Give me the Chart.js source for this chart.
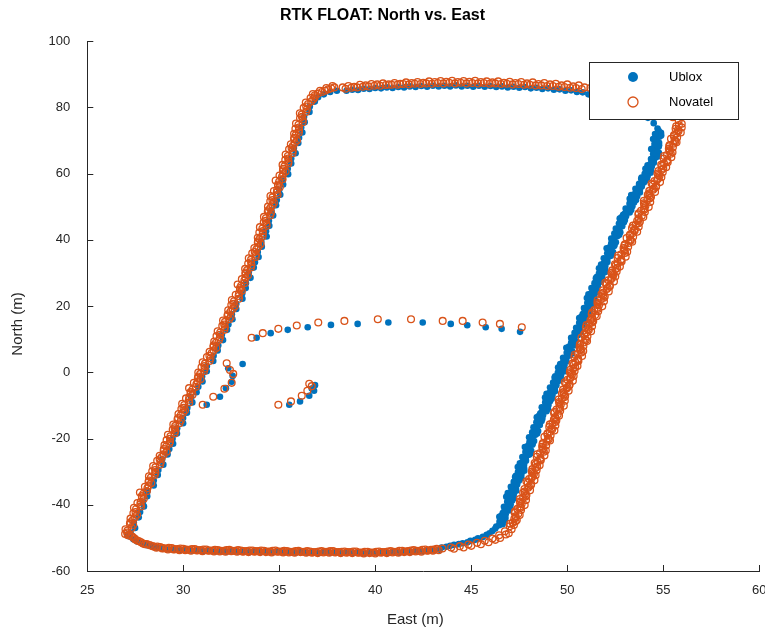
<!DOCTYPE html>
<html>
<head>
<meta charset="utf-8">
<title>RTK FLOAT: North vs. East</title>
<script src="https://cdn.jsdelivr.net/npm/chart.js@4/dist/chart.umd.min.js"></script>
<style>
    html, body { margin: 0; padding: 0; background: #ffffff; }
    #chart { display: block; }
</style>
</head>
<body>
<canvas id="chart" width="765" height="632"></canvas>
<script>

// axis ticks
var eastTicks = [25, 30, 35, 40, 45, 50, 55, 60];
var northTicks = [-60, -40, -20, 0, 20, 40, 60, 80, 100];

// Ublox track, [east, north] in metres, leg by leg
var ubloxWest = [
    [27.25,-48.4],[27.49,-47.0],[27.42,-45.3],[27.68,-43.8],[27.75,-42.2],[27.95,-40.5],[27.90,-39.1],[28.12,-37.4],[28.13,-35.9],[28.46,-34.2],
    [28.46,-32.7],[28.67,-31.0],[28.70,-29.5],[28.96,-27.9],[28.90,-26.3],[29.18,-24.8],[29.27,-23.2],[29.47,-21.6],[29.44,-20.1],[29.67,-18.5],
    [29.68,-16.9],[29.99,-15.4],[29.99,-13.8],[30.19,-12.2],[30.21,-10.7],[30.47,-9.1],[30.41,-7.5],[30.69,-6.0],[30.78,-4.4],[31.00,-2.8],
    [30.98,-1.3],[31.22,0.3],[31.23,1.9],[31.56,3.4],[31.58,5.0],[31.79,6.6],[31.82,8.1],[32.07,9.7],[32.01,11.3],[32.28,12.8],
    [32.35,14.4],[32.56,16.0],[32.53,17.5],[32.76,19.1],[32.76,20.7],[33.08,22.2],[33.07,23.8],[33.25,25.4],[33.26,26.9],[33.50,28.5],
    [33.41,30.1],[33.67,31.6],[33.73,33.2],[33.92,34.8],[33.88,36.3],[34.09,37.9],[34.06,39.5],[34.34,41.0],[34.31,42.6],[34.48,44.2],
    [34.46,45.7],[34.68,47.3],[34.59,48.9],[34.83,50.4],[34.87,52.0],[35.05,53.6],[35.00,55.1],[35.20,56.7],[35.18,58.3],[35.46,59.8],
    [35.44,61.4],[35.62,63.0],[35.62,64.5],[35.85,66.1],[35.76,67.7],[35.99,69.2],[36.03,70.8],[36.20,72.4],[36.14,73.9],[36.32,75.5],
    [36.29,77.1],[36.57,78.6],[36.59,80.2],[36.85,81.7],[37.02,83.0],[37.32,83.9],[37.65,84.6],[38.00,85.0]
];
var ubloxTop = [
    [38.5,85.0],[38.8,85.3],[39.1,85.2],[39.4,85.6],[39.7,85.5],[40.0,85.8],[40.3,85.7],[40.6,86.0],[40.9,85.8],[41.2,86.1],
    [41.5,86.0],[41.8,86.3],[42.1,86.1],[42.4,86.4],[42.7,86.2],[43.0,86.5],[43.3,86.3],[43.6,86.5],[43.9,86.3],[44.2,86.6],
    [44.5,86.3],[44.8,86.5],[45.1,86.2],[45.4,86.5],[45.7,86.2],[46.0,86.4],[46.3,86.1],[46.6,86.3],[46.9,86.0],[47.2,86.2],
    [47.5,85.9],[47.8,86.1],[48.1,85.7],[48.4,85.9],[48.7,85.5],[49.0,85.7],[49.3,85.3],[49.6,85.4],[49.9,85.0],[50.2,85.1],
    [50.5,84.6],[50.8,84.5],[51.1,83.9],[51.4,83.4],[51.8,82.8],[52.3,82.0],[52.8,81.0],[53.3,79.8],[53.8,78.4],[54.2,76.8],
    [54.5,75.2],[54.7,73.6]
];
var ubloxEastA = [
    [54.75,73.0],[54.89,71.5],[54.58,70.0],[54.78,68.5],[54.60,67.0],[54.78,65.5],[54.51,64.0],[54.18,62.5],[54.35,61.0],[54.08,59.5],
    [54.14,58.0],[53.74,56.5],[53.78,55.0],[53.33,53.5],[53.58,52.0],[53.32,50.5],[53.33,49.0],[52.91,47.5],[53.00,46.0],[52.75,44.5],
    [52.63,43.0],[52.71,41.5],[52.33,40.0],[52.46,38.5],[52.21,37.0],[52.32,35.5],[52.07,34.0],[51.76,32.5],[51.97,31.0],[51.72,29.5],
    [51.82,28.0],[51.45,26.5],[51.52,25.0],[51.10,23.5],[51.38,22.0],[51.15,20.5],[51.19,19.0],[50.80,17.5],[50.93,16.0],[50.68,14.5],
    [50.56,13.0],[50.62,11.5],[50.24,10.0],[50.36,8.5],[50.10,7.0],[50.20,5.5],[49.94,4.0],[49.63,2.5],[49.83,1.0],[49.57,-0.5],
    [49.66,-2.0],[49.29,-3.5],[49.35,-5.0],[48.92,-6.5],[49.19,-8.0],[48.95,-9.5],[48.99,-11.0],[48.59,-12.5],[48.70,-14.0],[48.46,-15.5],
    [48.35,-17.0],[48.43,-18.5],[48.07,-20.0],[48.20,-21.5],[47.95,-23.0],[48.08,-24.5],[47.83,-26.0],[47.53,-27.5],[47.75,-29.0],[47.51,-30.5],
    [47.61,-32.0],[47.25,-33.5],[47.32,-35.0],[46.90,-36.5],[47.21,-38.0],[46.98,-39.5],[47.03,-41.0],[46.64,-42.5],[46.78,-44.0],[46.52,-45.5]
];
var ubloxEastB = [
    [54.88,72.25],[54.64,70.75],[54.78,69.25],[54.52,67.75],[54.77,66.25],[54.57,64.75],[54.51,63.25],[54.26,61.75],[54.34,60.25],[53.87,58.75],
    [53.99,57.25],[53.74,55.75],[53.78,54.25],[53.42,52.75],[53.48,51.25],[53.26,49.75],[53.25,48.25],[52.82,46.75],[52.95,45.25],[52.74,43.75],
    [52.76,42.25],[52.46,40.75],[52.53,39.25],[52.20,37.75],[52.38,36.25],[52.11,34.75],[52.09,33.25],[51.86,31.75],[51.98,30.25],[51.53,28.75],
    [51.69,27.25],[51.47,25.75],[51.54,24.25],[51.21,22.75],[51.30,21.25],[51.11,19.75],[51.13,18.25],[50.73,16.75],[50.90,15.25],[50.66,13.75],
    [50.68,12.25],[50.36,10.75],[50.43,9.25],[50.09,7.75],[50.26,6.25],[49.98,4.75],[49.95,3.25],[49.72,1.75],[49.83,0.25],[49.37,-1.25],
    [49.52,-2.75],[49.30,-4.25],[49.36,-5.75],[49.02,-7.25],[49.10,-8.75],[48.90,-10.25],[48.92,-11.75],[48.51,-13.25],[48.66,-14.75],[48.45,-16.25],
    [48.48,-17.75],[48.18,-19.25],[48.27,-20.75],[47.94,-22.25],[48.12,-23.75],[47.87,-25.25],[47.85,-26.75],[47.63,-28.25],[47.76,-29.75],[47.32,-31.25],
    [47.48,-32.75],[47.27,-34.25],[47.34,-35.75],[47.01,-37.25],[47.13,-38.75],[46.94,-40.25],[46.97,-41.75],[46.57,-43.25],[46.75,-44.75]
];
var ubloxEastC = [
    [54.77,72.6],[54.80,71.1],[54.63,69.6],[54.76,68.1],[54.67,66.6],[54.71,65.1],[54.45,63.6],[54.40,62.1],[54.11,60.6],[54.18,59.1],
    [53.94,57.6],[53.88,56.1],[53.61,54.6],[53.64,53.1],[53.44,51.6],[53.39,50.1],[53.11,48.6],[53.06,47.1],[52.77,45.6],[52.86,44.1],
    [52.65,42.6],[52.62,41.1],[52.38,39.6],[52.44,38.1],[52.28,36.6],[52.25,35.1],[52.01,33.6],[51.98,32.1],[51.73,30.6],[51.82,29.1],
    [51.62,27.6],[51.59,26.1],[51.35,24.6],[51.41,23.1],[51.24,21.6],[51.22,20.1],[50.97,18.6],[50.95,17.1],[50.70,15.6],[50.79,14.1],
    [50.58,12.6],[50.53,11.1],[50.29,9.6],[50.34,8.1],[50.17,6.6],[50.13,5.1],[49.88,3.6],[49.85,2.1],[49.59,0.6],[49.67,-0.9],
    [49.46,-2.4],[49.43,-3.9],[49.18,-5.4],[49.23,-6.9],[49.05,-8.4],[49.02,-9.9],[48.77,-11.4],[48.74,-12.9],[48.47,-14.4],[48.57,-15.9],
    [48.37,-17.4],[48.34,-18.9],[48.12,-20.4],[48.18,-21.9],[48.02,-23.4],[48.01,-24.9],[47.77,-26.4],[47.75,-27.9],[47.51,-29.4],[47.61,-30.9],
    [47.41,-32.4],[47.39,-33.9],[47.15,-35.4],[47.21,-36.9],[47.07,-38.4],[47.05,-39.9],[46.81,-41.4],[46.79,-42.9],[46.55,-44.4],[46.63,-45.9]
];
var ubloxEastD = [
    [54.57,71.9],[54.47,70.4],[54.54,68.9],[54.37,67.4],[54.47,65.9],[54.36,64.4],[54.34,62.9],[54.07,61.4],[54.03,59.9],[53.85,58.4],
    [53.74,56.9],[53.55,55.4],[53.52,53.9],[53.25,52.4],[53.24,50.9],[53.04,49.4],[53.00,47.9],[52.73,46.4],[52.69,44.9],[52.53,43.4],
    [52.45,41.9],[52.29,40.4],[52.29,38.9],[52.05,37.4],[52.08,35.9],[51.90,34.4],[51.90,32.9],[51.65,31.4],[51.65,29.9],[51.49,28.4],
    [51.42,26.9],[51.26,25.4],[51.26,23.9],[51.02,22.4],[51.04,20.9],[50.87,19.4],[50.86,17.9],[50.62,16.4],[50.62,14.9],[50.46,13.4],
    [50.38,11.9],[50.20,10.4],[50.20,8.9],[49.95,7.4],[49.97,5.9],[49.78,4.4],[49.77,2.9],[49.52,1.4],[49.51,-0.1],[49.34,-1.6],
    [49.26,-3.1],[49.10,-4.6],[49.09,-6.1],[48.84,-7.6],[48.85,-9.1],[48.67,-10.6],[48.66,-12.1],[48.41,-13.6],[48.39,-15.1],[48.24,-16.6],
    [48.17,-18.1],[48.01,-19.6],[48.03,-21.1],[47.79,-22.6],[47.82,-24.1],[47.66,-25.6],[47.66,-27.1],[47.42,-28.6],[47.43,-30.1],[47.28,-31.6],
    [47.21,-33.1],[47.06,-34.6],[47.06,-36.1],[46.82,-37.6],[46.87,-39.1],[46.70,-40.6],[46.70,-42.1],[46.46,-43.6],[46.47,-45.1],[46.30,-46.6]
];
var ubloxCorner = [
    [46.25,-47.2],[45.95,-48.6],[45.60,-49.7],[45.20,-50.6],[44.80,-51.3],[44.35,-51.9],[43.90,-52.4],[43.45,-52.9],
    [46.45,-46.2],[46.10,-47.9],[45.80,-49.1],[45.35,-50.1],[44.95,-50.9],[44.55,-51.6],[44.10,-52.1],[43.70,-52.7]
];
var ubloxBottom = [
    [43.35,-53.6],[43.05,-53.8],[42.75,-53.9],[42.45,-54.1],[42.15,-54.0],[41.85,-54.3],[41.55,-54.2],[41.25,-54.5],[40.95,-54.3],[40.65,-54.6],
    [40.35,-54.4],[40.05,-54.6],[39.75,-54.5],[39.45,-54.7],[39.15,-54.4],[38.85,-54.6],[38.55,-54.4],[38.25,-54.6],[37.95,-54.3],[37.65,-54.5],
    [37.35,-54.3],[37.05,-54.6],[36.75,-54.4],[36.45,-54.5],[36.15,-54.2],[35.85,-54.5],[35.55,-54.3],[35.25,-54.4],[34.95,-54.1],[34.65,-54.4],
    [34.35,-54.2],[34.05,-54.3],[33.75,-54.1],[33.45,-54.3],[33.15,-54.1],[32.85,-54.2],[32.55,-53.9],[32.25,-54.2],[31.95,-54.0],[31.65,-54.1],
    [31.35,-53.8],[31.05,-54.0],[30.75,-53.7],[30.45,-53.9],[30.15,-53.6],[29.85,-53.7],[29.55,-53.4],[29.25,-53.5],[28.95,-53.1],[28.65,-53.0],
    [28.35,-52.5],[28.10,-52.2],[27.85,-51.6],[27.60,-51.1],[27.40,-50.4],[27.20,-49.6],[27.10,-49.0]
];
var ubloxInner = [
    [33.82,10.4],[34.55,11.8],[35.44,12.8],[36.48,13.6],[37.69,14.3],[39.08,14.6],[40.68,15.0],[42.47,15.0],[43.93,14.6],[44.79,14.2],
    [45.75,13.6],[46.58,13.1],[47.54,12.2],
    [33.09,2.5],[32.34,1.2],[32.57,-1.1],[32.52,-2.9],[32.22,-4.8],[31.91,-7.4],[31.22,-9.8],
    [35.52,-9.8],[36.08,-8.8],[36.56,-7.1],[36.81,-5.6],[36.86,-3.9],[36.69,-4.9]
];

// Novatel track, [east, north] in metres, leg by leg
var novatelWest = [
    [27.11,-49.2],[27.09,-47.8],[27.39,-46.1],[27.37,-44.6],[27.59,-43.0],[27.54,-41.3],[27.76,-39.9],[27.94,-38.2],[27.92,-36.7],[28.13,-35.0],
    [28.33,-33.5],[28.31,-31.8],[28.55,-30.3],[28.55,-28.7],[28.83,-27.1],[28.88,-25.6],[29.13,-24.0],[29.11,-22.4],[29.31,-20.9],[29.33,-19.3],
    [29.59,-17.7],[29.58,-16.2],[29.87,-14.6],[29.87,-13.0],[30.09,-11.5],[30.05,-9.9],[30.29,-8.3],[30.48,-6.8],[30.48,-5.2],[30.68,-3.6],
    [30.90,-2.1],[30.88,-0.5],[31.12,1.1],[31.13,2.6],[31.42,4.2],[31.48,5.8],[31.72,7.3],[31.70,8.9],[31.91,10.5],[31.92,12.0],
    [32.17,13.6],[32.17,15.2],[32.47,16.7],[32.46,18.3],[32.69,19.9],[32.64,21.4],[32.88,23.0],[33.05,24.6],[33.01,26.1],[33.18,27.7],
    [33.37,29.3],[33.32,30.8],[33.55,32.4],[33.53,34.0],[33.78,35.5],[33.81,37.1],[34.03,38.7],[33.97,40.2],[34.14,41.8],[34.12,43.4],
    [34.33,44.9],[34.30,46.5],[34.57,48.1],[34.53,49.6],[34.72,51.2],[34.65,52.8],[34.87,54.3],[35.03,55.9],[34.99,57.5],[35.14,59.0],
    [35.33,60.6],[35.27,62.2],[35.48,63.7],[35.45,65.3],[35.70,66.9],[35.71,68.4],[35.92,70.0],[35.86,71.6],[36.02,73.1],[36.00,74.7],
    [36.22,76.3],[36.17,77.8],[36.44,79.4],[36.50,81.0],[36.77,82.4],[36.85,83.6],[37.22,84.6],[37.55,85.4],[37.87,86.0]
];
var novatelWestB = [
    [27.07,-48.4],[27.31,-47.0],[27.25,-45.3],[27.49,-43.8],[27.51,-42.2],[27.80,-40.5],[27.78,-39.1],[27.84,-37.4],[28.10,-35.9],[28.19,-34.2],
    [28.21,-32.7],[28.51,-31.0],[28.53,-29.5],[28.79,-27.9],[28.77,-26.3],[28.98,-24.8],[28.99,-23.2],[29.27,-21.6],[29.31,-20.1],[29.55,-18.5],
    [29.55,-16.9],[29.80,-15.4],[29.73,-13.8],[29.99,-12.2],[30.01,-10.7],[30.31,-9.1],[30.31,-7.5],[30.38,-6.0],[30.66,-4.4],[30.74,-2.8],
    [30.78,-1.3],[31.08,0.3],[31.10,1.9],[31.37,3.4],[31.36,5.0],[31.58,6.6],[31.58,8.1],[31.86,9.7],[31.91,11.3],[32.14,12.8],
    [32.13,14.4],[32.39,16.0],[32.33,17.5],[32.58,19.1],[32.61,20.7],[32.90,22.2],[32.90,23.8],[32.95,25.4],[33.19,26.9],[33.24,28.5],
    [33.25,30.1],[33.52,31.6],[33.53,33.2],[33.77,34.8],[33.72,36.3],[33.91,37.9],[33.89,39.5],[34.13,41.0],[34.14,42.6],[34.34,44.2],
    [34.29,45.7],[34.52,47.3],[34.43,48.9],[34.65,50.4],[34.64,52.0],[34.91,53.6],[34.89,55.1],[34.93,56.7],[35.17,58.3],[35.20,59.8],
    [35.21,61.4],[35.47,63.0],[35.46,64.5],[35.69,66.1],[35.64,67.7],[35.81,69.2],[35.78,70.8],[36.02,72.4],[36.02,73.9],[36.22,75.5],
    [36.18,77.1],[36.39,78.6],[36.40,80.2],[36.66,81.7],[36.85,83.0],[37.00,84.1],[37.38,85.0],[37.70,85.7]
];
var novatelWestC = [
    [26.97,-48.8],[26.99,-47.4],[27.22,-45.7],[27.25,-44.2],[27.40,-42.6],[27.43,-40.9],[27.61,-39.5],[27.85,-37.8],[27.74,-36.3],[28.00,-34.6],
    [28.19,-33.1],[28.21,-31.4],[28.38,-29.9],[28.43,-28.3],[28.64,-26.7],[28.77,-25.2],[28.98,-23.6],[29.02,-22.0],[29.13,-20.5],[29.20,-18.9],
    [29.45,-17.3],[29.48,-15.8],[29.70,-14.2],[29.75,-12.6],[29.90,-11.1],[29.94,-9.5],[30.14,-7.9],[30.39,-6.4],[30.30,-4.8],[30.55,-3.2],
    [30.76,-1.7],[30.78,-0.1],[30.95,1.5],[31.01,3.0],[31.23,4.6],[31.37,6.2],[31.57,7.7],[31.61,9.3],[31.73,10.9],[31.79,12.4],
    [32.03,14.0],[32.07,15.6],[32.30,17.1],[32.34,18.7],[32.50,20.3],[32.53,21.8],[32.73,23.4],[32.96,25.0],[32.83,26.5],[33.05,28.1],
    [33.23,29.7],[33.22,31.2],[33.38,32.8],[33.41,34.4],[33.59,35.9],[33.70,37.5],[33.88,39.1],[33.88,40.6],[33.96,42.2],[33.99,43.8],
    [34.19,45.3],[34.20,46.9],[34.40,48.5],[34.41,50.0],[34.53,51.6],[34.54,53.2],[34.72,54.7],[34.94,56.3],[34.81,57.9],[35.01,59.4],
    [35.19,61.0],[35.17,62.6],[35.31,64.1],[35.33,65.7],[35.51,67.3],[35.60,68.8],[35.77,70.4],[35.77,72.0],[35.84,73.5],[35.87,75.1],
    [36.08,76.7],[36.07,78.2],[36.27,79.8],[36.38,81.4],[36.63,82.8],[36.75,84.0],[37.12,85.0],[37.45,85.8],[37.77,86.4]
];
var novatelTop = [
    [38.3,86.0],[38.6,86.4],[38.9,86.2],[39.2,86.8],[39.5,86.6],[39.8,87.0],[40.1,86.9],[40.4,87.2],[40.7,86.9],[41.0,87.3],
    [41.3,87.1],[41.6,87.5],[41.9,87.3],[42.2,87.6],[42.5,87.4],[42.8,87.8],[43.1,87.6],[43.4,87.9],[43.7,87.7],[44.0,88.0],
    [44.3,87.6],[44.6,87.9],[44.9,87.7],[45.2,88.0],[45.5,87.6],[45.8,87.8],[46.1,87.5],[46.4,87.8],[46.7,87.4],[47.0,87.7],
    [47.3,87.3],[47.6,87.6],[47.9,87.2],[48.2,87.5],[48.5,87.0],[48.8,87.3],[49.1,86.9],[49.4,87.1],[49.7,86.6],[50.0,86.9],
    [50.3,86.3],[50.6,86.6],[50.9,86.0],[51.2,85.8],[51.6,85.4],[52.1,84.9],[52.6,84.1],[53.1,83.3],[53.6,82.2],[54.1,81.0],
    [54.6,79.6],[55.1,78.3],[55.5,77.0],[55.8,76.0]
];
var novatelTopB = [
    [38.45,85.6],[38.75,85.9],[39.05,86.0],[39.35,86.2],[39.65,86.3],[39.95,86.5],[40.25,86.5],[40.55,86.7],[40.85,86.8],[41.15,86.8],
    [41.45,87.0],[41.75,86.9],[42.05,87.1],[42.35,87.0],[42.65,87.2],[42.95,87.1],[43.25,87.3],[43.55,87.2],[43.85,87.4],[44.15,87.2],
    [44.45,87.4],[44.75,87.2],[45.05,87.3],[45.35,87.2],[45.65,87.3],[45.95,87.1],[46.25,87.2],[46.55,87.0],[46.85,87.1],[47.15,86.9],
    [47.45,87.0],[47.75,86.8],[48.05,86.8],[48.35,86.6],[48.65,86.6],[48.95,86.4],[49.25,86.4],[49.55,86.2],[49.85,86.1],[50.15,85.9],
    [50.45,85.8],[50.75,85.5]
];
var novatelEastA = [
    [55.96,75.0],[55.64,73.5],[55.68,72.0],[55.40,70.5],[55.52,69.0],[55.29,67.5],[55.39,66.0],[55.02,64.5],[55.04,63.0],[55.00,61.5],
    [54.70,60.0],[54.72,58.5],[54.39,57.0],[54.51,55.5],[54.27,54.0],[54.31,52.5],[53.99,51.0],[54.00,49.5],[53.72,48.0],[53.72,46.5],
    [53.72,45.0],[53.37,43.5],[53.39,42.0],[53.09,40.5],[53.19,39.0],[52.93,37.5],[53.01,36.0],[52.62,34.5],[52.63,33.0],[52.60,31.5],
    [52.30,30.0],[52.32,28.5],[51.98,27.0],[52.10,25.5],[51.86,24.0],[51.90,22.5],[51.57,21.0],[51.57,19.5],[51.29,18.0],[51.29,16.5],
    [51.29,15.0],[50.97,13.5],[51.01,12.0],[50.74,10.5],[50.86,9.0],[50.64,7.5],[50.74,6.0],[50.37,4.5],[50.42,3.0],[50.41,1.5],
    [50.13,0.0],[50.18,-1.5],[49.87,-3.0],[50.01,-4.5],[49.80,-6.0],[49.86,-7.5],[49.57,-9.0],[49.59,-10.5],[49.33,-12.0],[49.37,-13.5],
    [49.38,-15.0],[49.06,-16.5],[49.09,-18.0],[48.81,-19.5],[48.92,-21.0],[48.69,-22.5],[48.78,-24.0],[48.41,-25.5],[48.45,-27.0],[48.43,-28.5],
    [48.15,-30.0],[48.18,-31.5],[47.87,-33.0],[48.00,-34.5],[47.78,-36.0],[47.84,-37.5],[47.53,-39.0],[47.55,-40.5],[47.28,-42.0],[47.31,-43.5],
    [47.31,-45.0],[47.00,-46.5]
];
var novatelEastB = [
    [55.67,74.25],[55.79,72.75],[55.55,71.25],[55.63,69.75],[55.31,68.25],[55.34,66.75],[55.04,65.25],[55.20,63.75],[54.94,62.25],[54.74,60.75],
    [54.80,59.25],[54.54,57.75],[54.63,56.25],[54.27,54.75],[54.27,53.25],[53.99,51.75],[54.07,50.25],[53.84,48.75],[53.88,47.25],[53.64,45.75],
    [53.42,44.25],[53.51,42.75],[53.25,41.25],[53.31,39.75],[52.97,38.25],[52.97,36.75],[52.65,35.25],[52.80,33.75],[52.53,32.25],[52.34,30.75],
    [52.40,29.25],[52.14,27.75],[52.22,26.25],[51.86,24.75],[51.86,23.25],[51.58,21.75],[51.65,20.25],[51.41,18.75],[51.45,17.25],[51.21,15.75],
    [51.00,14.25],[51.12,12.75],[50.88,11.25],[50.97,9.75],[50.65,8.25],[50.69,6.75],[50.39,5.25],[50.56,3.75],[50.33,2.25],[50.16,0.75],
    [50.24,-0.75],[50.01,-2.25],[50.12,-3.75],[49.78,-5.25],[49.81,-6.75],[49.55,-8.25],[49.66,-9.75],[49.44,-11.25],[49.50,-12.75],[49.30,-14.25],
    [49.09,-15.75],[49.21,-17.25],[48.96,-18.75],[49.04,-20.25],[48.71,-21.75],[48.74,-23.25],[48.43,-24.75],[48.60,-26.25],[48.36,-27.75],[48.18,-29.25],
    [48.26,-30.75],[48.01,-32.25],[48.12,-33.75],[47.77,-35.25],[47.79,-36.75],[47.53,-38.25],[47.62,-39.75],[47.40,-41.25],[47.45,-42.75],[47.24,-44.25],
    [47.02,-45.75]
];
var novatelEastC = [
    [55.81,74.6],[55.76,73.1],[55.56,71.6],[55.59,70.1],[55.33,68.6],[55.33,67.1],[55.19,65.6],[55.21,64.1],[54.89,62.6],[54.91,61.1],
    [54.75,59.6],[54.68,58.1],[54.46,56.6],[54.47,55.1],[54.19,53.6],[54.17,52.1],[54.01,50.6],[54.02,49.1],[53.70,47.6],[53.72,46.1],
    [53.57,44.6],[53.49,43.1],[53.27,41.6],[53.28,40.1],[53.00,38.6],[52.97,37.1],[52.81,35.6],[52.81,34.1],[52.48,32.6],[52.51,31.1],
    [52.35,29.6],[52.28,28.1],[52.05,26.6],[52.06,25.1],[51.78,23.6],[51.76,22.1],[51.59,20.6],[51.59,19.1],[51.27,17.6],[51.29,16.1],
    [51.14,14.6],[51.09,13.1],[50.89,11.6],[50.93,10.1],[50.67,8.6],[50.68,7.1],[50.54,5.6],[50.56,4.1],[50.27,2.6],[50.32,1.1],
    [50.18,-0.4],[50.14,-1.9],[49.94,-3.4],[49.97,-4.9],[49.72,-6.4],[49.72,-7.9],[49.59,-9.4],[49.61,-10.9],[49.31,-12.4],[49.37,-13.9],
    [49.23,-15.4],[49.18,-16.9],[48.97,-18.4],[49.00,-19.9],[48.73,-21.4],[48.73,-22.9],[48.58,-24.4],[48.60,-25.9],[48.30,-27.4],[48.34,-28.9],
    [48.20,-30.4],[48.14,-31.9],[47.94,-33.4],[47.96,-34.9],[47.70,-36.4],[47.70,-37.9],[47.55,-39.4],[47.57,-40.9],[47.26,-42.4],[47.31,-43.9],
    [47.16,-45.4]
];
var novatelEastD = [
    [55.96,73.9],[55.91,72.4],[55.72,70.9],[55.69,69.4],[55.50,67.9],[55.48,66.4],[55.42,64.9],[55.23,63.4],[55.15,61.9],[54.97,60.4],
    [54.90,58.9],[54.83,57.4],[54.62,55.9],[54.57,54.4],[54.36,52.9],[54.32,51.4],[54.24,49.9],[54.04,48.4],[53.96,46.9],[53.78,45.4],
    [53.72,43.9],[53.64,42.4],[53.43,40.9],[53.38,39.4],[53.17,37.9],[53.12,36.4],[53.04,34.9],[52.83,33.4],[52.74,31.9],[52.57,30.4],
    [52.50,28.9],[52.43,27.4],[52.21,25.9],[52.16,24.4],[51.95,22.9],[51.91,21.4],[51.82,19.9],[51.61,18.4],[51.53,16.9],[51.35,15.4],
    [51.29,13.9],[51.24,12.4],[51.05,10.9],[51.03,9.4],[50.84,7.9],[50.83,6.4],[50.77,4.9],[50.58,3.4],[50.53,1.9],[50.38,0.4],
    [50.33,-1.1],[50.29,-2.6],[50.10,-4.1],[50.07,-5.6],[49.89,-7.1],[49.87,-8.6],[49.82,-10.1],[49.63,-11.6],[49.57,-13.1],[49.43,-14.6],
    [49.38,-16.1],[49.33,-17.6],[49.13,-19.1],[49.10,-20.6],[48.90,-22.1],[48.88,-23.6],[48.81,-25.1],[48.62,-26.6],[48.56,-28.1],[48.40,-29.6],
    [48.35,-31.1],[48.29,-32.6],[48.10,-34.1],[48.06,-35.6],[47.87,-37.1],[47.85,-38.6],[47.78,-40.1],[47.59,-41.6],[47.52,-43.1],[47.37,-44.6],
    [47.22,-46.1]
];
var novatelCorner = [
    [46.75,-48.0],[46.95,-48.6],[46.45,-49.2],[46.50,-50.0],[46.10,-50.2],[45.70,-50.9],[45.90,-51.3],[45.30,-51.5],[44.85,-52.0],[44.40,-52.5],
    [43.95,-52.9],[43.50,-53.2],
    [47.10,-47.4],[46.80,-49.0],[46.25,-50.6],[45.50,-51.9],[45.00,-52.4],[44.60,-52.9],[44.10,-53.3]
];
var novatelBottom = [
    [43.2,-53.3],[42.9,-53.6],[42.6,-53.5],[42.3,-53.9],[42.0,-53.7],[41.7,-54.0],[41.4,-53.9],[41.1,-54.2],[40.8,-54.0],[40.5,-54.3],
    [40.2,-54.1],[39.9,-54.4],[39.6,-54.2],[39.3,-54.4],[39.0,-54.1],[38.7,-54.3],[38.4,-54.1],[38.1,-54.3],[37.8,-54.0],[37.5,-54.2],
    [37.2,-54.0],[36.9,-54.3],[36.6,-54.1],[36.3,-54.2],[36.0,-53.9],[35.7,-54.2],[35.4,-54.0],[35.1,-54.1],[34.8,-53.8],[34.5,-54.1],
    [34.2,-53.9],[33.9,-54.0],[33.6,-53.8],[33.3,-54.0],[33.0,-53.8],[32.7,-53.9],[32.4,-53.6],[32.1,-53.9],[31.8,-53.7],[31.5,-53.8],
    [31.2,-53.5],[30.9,-53.7],[30.6,-53.4],[30.3,-53.6],[30.0,-53.3],[29.7,-53.4],[29.4,-53.1],[29.1,-53.2],[28.8,-52.8],[28.5,-52.7],
    [28.25,-52.2],[28.0,-51.9],[27.8,-51.3],[27.6,-50.8],[27.45,-50.1],[27.3,-49.5]
];
var novatelBottomB = [
    [43.05,-53.5],[42.75,-53.8],[42.45,-53.6],[42.15,-53.9],[41.85,-53.8],[41.55,-54.1],[41.25,-53.9],[40.95,-54.2],[40.65,-54.1],[40.35,-54.3],
    [40.05,-54.2],[39.75,-54.4],[39.45,-54.2],[39.15,-54.4],[38.85,-54.1],[38.55,-54.3],[38.25,-54.2],[37.95,-54.3],[37.65,-54.0],[37.35,-54.2],
    [37.05,-54.1],[36.75,-54.3],[36.45,-54.0],[36.15,-54.2],[35.85,-54.0],[35.55,-54.2],[35.25,-53.9],[34.95,-54.1],[34.65,-53.9],[34.35,-54.1],
    [34.05,-53.8],[33.75,-54.0],[33.45,-53.8],[33.15,-54.0],[32.85,-53.7],[32.55,-53.9],[32.25,-53.7],[31.95,-53.9],[31.65,-53.6],[31.35,-53.8],
    [31.05,-53.5],[30.75,-53.7],[30.45,-53.4],[30.15,-53.5],[29.85,-53.2],[29.55,-53.4],[29.25,-53.0],[28.95,-53.1],[28.65,-52.6],[28.4,-52.5],
    [28.1,-51.9],[27.9,-51.7],[27.7,-51.0],[27.5,-50.5],[27.35,-49.7],[27.2,-49.2]
];
var novatelBottomC = [
    [43.3,-53.7],[43.0,-53.9],[42.7,-53.9],[42.4,-54.2],[42.1,-54.1],[41.8,-54.3],[41.5,-54.3],[41.2,-54.5],[40.9,-54.4],[40.6,-54.6],
    [40.3,-54.5],[40.0,-54.7],[39.7,-54.6],[39.4,-54.7],[39.1,-54.5],[38.8,-54.6],[38.5,-54.5],[38.2,-54.6],[37.9,-54.4],[37.6,-54.5],
    [37.3,-54.4],[37.0,-54.6],[36.7,-54.5],[36.4,-54.5],[36.1,-54.3],[35.8,-54.5],[35.5,-54.4],[35.2,-54.4],[34.9,-54.2],[34.6,-54.4],
    [34.3,-54.3],[34.0,-54.3],[33.7,-54.2],[33.4,-54.3],[33.1,-54.2],[32.8,-54.2],[32.5,-54.0],[32.2,-54.2],[31.9,-54.1],[31.6,-54.1],
    [31.3,-53.9],[31.0,-54.0],[30.7,-53.8],[30.4,-53.9],[30.1,-53.7],[29.8,-53.7],[29.5,-53.5],[29.2,-53.5],[28.9,-53.2],[28.6,-53.0]
];
var novatelInner = [
    [33.56,10.4],[34.14,11.8],[34.95,13.1],[35.91,14.1],[37.03,15.0],[38.39,15.5],[40.13,16.0],[41.86,16.0],[43.51,15.5],[44.55,15.5],
    [45.59,15.0],[46.49,14.6],[47.63,13.6],
    [32.26,2.7],[32.43,0.7],[32.60,-0.5],[32.52,-3.2],[32.14,-5.0],[31.56,-7.4],[31.01,-9.8],
    [34.95,-9.8],[35.61,-8.8],[36.17,-7.1],[36.46,-5.6],[36.56,-3.5],[36.69,-4.2]
];

var seriesNames = ['Ublox', 'Novatel'];
var ubloxColor = '#0072BD';
var novatelColor = '#D95319';
var axisColor = '#262626';
var fontFamily = "'Liberation Sans', Arial, Helvetica, sans-serif";

var toXY = function(legs) {
    var out = [];
    legs.forEach(function(leg) {
        leg.forEach(function(p) {
            out.push({x: p[0], y: p[1]});
        });
    });
    return out;
};

// MATLAB style ticks pointing into the axes
var inwardTicks = {
    id: 'inwardTicks',
    afterDatasetsDraw: function(chart) {
        var ctx = chart.ctx;
        var area = chart.chartArea;
        var xs = chart.scales.x, ys = chart.scales.y;
        ctx.save();
        ctx.strokeStyle = axisColor;
        ctx.lineWidth = 1;
        ctx.beginPath();
        xs.ticks.forEach(function(t) {
            var px = Math.round(xs.getPixelForValue(t.value)) + 0.5;
            ctx.moveTo(px, area.bottom);
            ctx.lineTo(px, area.bottom - 6);
        });
        ys.ticks.forEach(function(t) {
            var py = Math.round(ys.getPixelForValue(t.value)) + 0.5;
            ctx.moveTo(area.left, py);
            ctx.lineTo(area.left + 6, py);
        });
        ctx.stroke();
        ctx.restore();
    }
};

// axis labels, placed like the MATLAB figure (a bit off the axes centre)
var axisLabels = {
    id: 'axisLabels',
    afterDraw: function(chart) {
        var ctx = chart.ctx;
        var area = chart.chartArea;
        ctx.save();
        ctx.fillStyle = axisColor;
        ctx.font = '15px ' + fontFamily;
        ctx.textAlign = 'center';
        ctx.textBaseline = 'middle';
        ctx.fillText('East (m)', (area.left + area.right) / 2 - 8, area.bottom + 49);
        ctx.translate(area.left - 69, (area.top + area.bottom) / 2 + 18);
        ctx.rotate(-Math.PI / 2);
        ctx.fillText('North (m)', 0, 0);
        ctx.restore();
    }
};

// boxed legend in the upper right, drawn over the points
var boxLegend = {
    id: 'boxLegend',
    afterDraw: function(chart) {
        var ctx = chart.ctx;
        var area = chart.chartArea;
        var w = 150, h = 58;
        var left = Math.round(area.right - 20 - w);
        var top = Math.round(area.top + 21);
        ctx.save();
        ctx.fillStyle = '#ffffff';
        ctx.fillRect(left, top, w, h);
        ctx.strokeStyle = axisColor;
        ctx.lineWidth = 1;
        ctx.strokeRect(left + 0.5, top + 0.5, w - 1, h - 1);

        ctx.font = '13px ' + fontFamily;
        ctx.textBaseline = 'middle';
        ctx.textAlign = 'left';
        chart.data.datasets.forEach(function(ds, i) {
            var cy = top + 15 + i * 25;
            var cx = left + 44;
            ctx.beginPath();
            ctx.arc(cx, cy, 5, 0, Math.PI * 2);
            if (ds.legendFilled) {
                ctx.fillStyle = ds.backgroundColor;
                ctx.fill();
            } else {
                ctx.strokeStyle = ds.borderColor;
                ctx.lineWidth = 1.3;
                ctx.stroke();
            }
            ctx.fillStyle = '#000000';
            ctx.fillText(ds.label, left + 80, cy);
        });
        ctx.restore();
    }
};

var initChart = function() {
    var canvas = document.getElementById('chart');

    var chart = new Chart(canvas, {
        type: 'scatter',
        data: {
            datasets: [
                {
                    label: seriesNames[0],
                    data: toXY([ubloxWest, ubloxTop, ubloxEastA, ubloxEastB, ubloxEastC, ubloxEastD,
                                ubloxCorner, ubloxBottom, ubloxInner]),
                    order: 1,
                    legendFilled: true,
                    pointStyle: 'circle',
                    pointRadius: 3.3,
                    pointBorderWidth: 0,
                    backgroundColor: ubloxColor,
                    borderColor: ubloxColor
                },
                {
                    label: seriesNames[1],
                    data: toXY([novatelWest, novatelWestB, novatelWestC, novatelTop, novatelTopB,
                                novatelEastA, novatelEastB, novatelEastC, novatelEastD,
                                novatelCorner, novatelBottom, novatelBottomB, novatelBottomC, novatelInner]),
                    order: 0,
                    legendFilled: false,
                    pointStyle: 'circle',
                    pointRadius: 3.4,
                    pointBorderWidth: 1.3,
                    backgroundColor: 'rgba(255,255,255,0)',
                    borderColor: novatelColor
                }
            ]
        },
        options: {
            responsive: false,
            animation: false,
            devicePixelRatio: 1,
            events: [],
            layout: { padding: 0 },
            plugins: {
                legend: { display: false },
                tooltip: { enabled: false },
                title: {
                    display: true,
                    text: 'RTK FLOAT: North vs. East',
                    color: '#000000',
                    font: { family: fontFamily, size: 16, weight: 'bold' },
                    padding: { top: 6.4, bottom: 15.4 }
                }
            },
            scales: {
                x: {
                    type: 'linear',
                    min: eastTicks[0],
                    max: eastTicks[eastTicks.length - 1],
                    afterBuildTicks: function(scale) {
                        scale.ticks = eastTicks.map(function(v) { return {value: v}; });
                    },
                    afterFit: function(scale) {
                        scale.height = 61;
                        scale.paddingRight = 5.7;
                    },
                    grid: { display: false, drawTicks: false },
                    border: { display: true, color: axisColor, width: 1 },
                    ticks: {
                        color: axisColor,
                        padding: 12,
                        maxRotation: 0,
                        font: { family: fontFamily, size: 13 }
                    }
                },
                y: {
                    type: 'linear',
                    min: northTicks[0],
                    max: northTicks[northTicks.length - 1],
                    afterBuildTicks: function(scale) {
                        scale.ticks = northTicks.map(function(v) { return {value: v}; });
                    },
                    afterFit: function(scale) {
                        scale.width = 87.3;
                    },
                    grid: { display: false, drawTicks: false },
                    border: { display: true, color: axisColor, width: 1 },
                    ticks: {
                        color: axisColor,
                        padding: 17,
                        font: { family: fontFamily, size: 13 }
                    }
                }
            }
        },
        plugins: [inwardTicks, axisLabels, boxLegend]
    });
};

window.onload = initChart;
</script>
</body>
</html>
